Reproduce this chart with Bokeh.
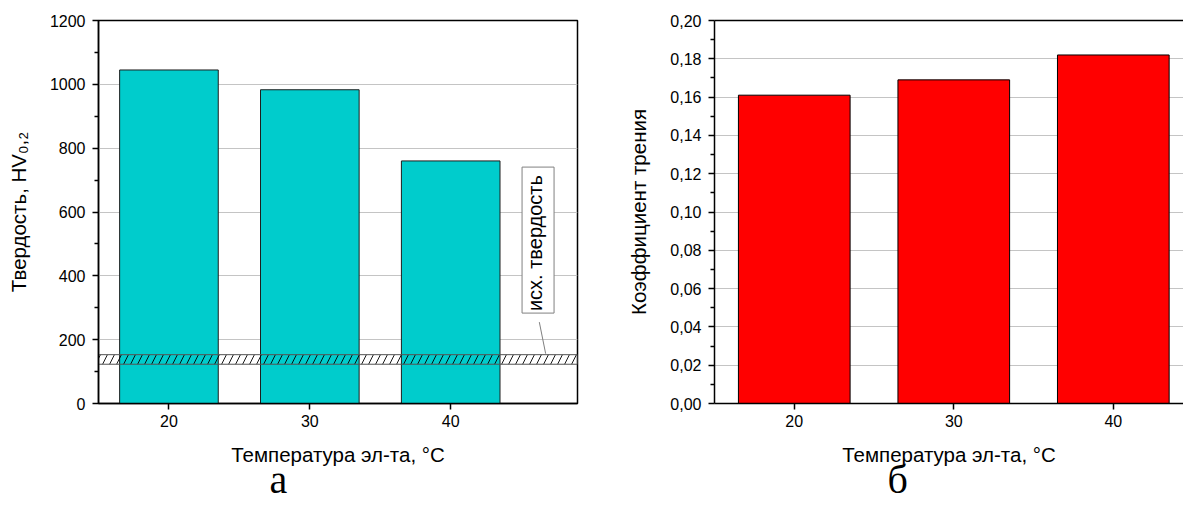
import math
from bokeh.plotting import figure
from bokeh.models import FixedTicker, Label, LinearAxis, CustomJSTickFormatter, Range1d, Title
from bokeh.layouts import row
from bokeh.embed import file_html
from bokeh.resources import INLINE

# ---------------- data ----------------
temps = [20, 30, 40]                       # electrolyte temperature, °C
hardness = [1045, 983, 760]                # HV0,2
friction = [0.161, 0.169, 0.182]           # friction coefficient
base_hardness_low = 123                    # initial hardness band
base_hardness_high = 153
hard_ticks = [0, 200, 400, 600, 800, 1000, 1200]
hard_minor = [100, 300, 500, 700, 900, 1100]
fric_ticks = [0.0, 0.02, 0.04, 0.06, 0.08, 0.10, 0.12, 0.14, 0.16, 0.18, 0.20]
fric_minor = [0.01, 0.03, 0.05, 0.07, 0.09, 0.11, 0.13, 0.15, 0.17, 0.19]
x_left_range = (15, 49)
x_right_range = (15, 44.4)
bar_width = 7

FONT = "Liberation Sans"
SERIF = "Liberation Serif"


def style_axes(p, yticks, yminor):
    p.xgrid.visible = False
    p.ygrid.grid_line_color = "#c4c4c4"
    p.ygrid.grid_line_width = 1
    p.xaxis.ticker = FixedTicker(ticks=temps)
    p.yaxis.ticker = FixedTicker(ticks=yticks, minor_ticks=yminor)
    for ax in (p.xaxis[0], p.yaxis[0]):
        ax.axis_line_color = "black"
        ax.axis_line_width = 1.5
        ax.major_tick_line_color = "black"
        ax.major_tick_line_width = 1.5
        ax.major_tick_in = 0
        ax.major_tick_out = 6
        ax.minor_tick_line_color = "black"
        ax.minor_tick_line_width = 1.5
        ax.minor_tick_in = 0
        ax.minor_tick_out = 4
        ax.major_label_text_font = FONT
        ax.major_label_text_font_size = "16px"
        ax.major_label_text_color = "black"
        ax.major_label_standoff = 7
        ax.axis_label_text_font = FONT
        ax.axis_label_text_font_size = "20.5px"
        ax.axis_label_text_font_style = "normal"
        ax.axis_label_text_color = "black"
    p.xaxis.minor_tick_line_color = None
    p.xaxis.axis_label = "Температура эл-та, °C"
    p.xaxis.axis_label_standoff = 13
    p.xaxis.major_label_standoff = 5
    p.background_fill_color = "white"
    p.border_fill_color = "white"


def panel_letter(p, letter, offset):
    p.add_layout(Title(text=letter, align="left", offset=offset, standoff=-27,
                       text_font=SERIF, text_font_size="40px",
                       text_font_style="normal", text_color="black"), "below")


# ---------------- left chart (a) ----------------
p1 = figure(width=608, height=522,
            x_range=Range1d(*x_left_range), y_range=Range1d(0, hard_ticks[-1]),
            output_backend="svg", toolbar_location=None,
            min_border_left=98, min_border_right=31,
            min_border_top=20, min_border_bottom=119)
style_axes(p1, hard_ticks, hard_minor)
p1.outline_line_color = "black"
p1.outline_line_width = 1.5
p1.outline_line_alpha = 1
p1.yaxis.axis_label = "Твердость, HV₀,₂"
p1.yaxis.axis_label_standoff = 17

p1.vbar(x=temps, top=hardness, bottom=0, width=bar_width,
        fill_color="#00CCCC", line_color="#1e1e1e", line_width=1)

p1.quad(left=[x_left_range[0]], right=[x_left_range[1]],
        bottom=[base_hardness_low], top=[base_hardness_high],
        fill_alpha=0, line_color="#555555", line_width=1,
        hatch_pattern="/", hatch_color="black", hatch_weight=0.9, hatch_scale=14)

p1.segment(x0=[46.29], y0=[255], x1=[46.74], y1=[156],
           line_color="#808080", line_width=1)

p1.add_layout(Label(x=46.2, y=512, text="исх. твердость", angle=math.pi / 2,
                    text_align="center", text_baseline="middle",
                    text_font=FONT, text_font_size="20px", text_color="black",
                    border_line_color="#808080", border_line_width=1,
                    background_fill_color="white", padding=(2, 8, 2, 8)))

panel_letter(p1, "а", 171)

# ---------------- right chart (б) ----------------
p2 = figure(width=575, height=522,
            x_range=Range1d(*x_right_range), y_range=Range1d(0, fric_ticks[-1]),
            output_backend="svg", toolbar_location=None,
            min_border_left=106, min_border_right=0,
            min_border_top=20, min_border_bottom=119)
style_axes(p2, fric_ticks, fric_minor)
p2.outline_line_color = None
p2.yaxis.formatter = CustomJSTickFormatter(code="return tick.toFixed(2).replace('.', ',');")
p2.yaxis.axis_label = "Коэффициент трения"
p2.yaxis.axis_label_standoff = 17

top_axis = LinearAxis(ticker=FixedTicker(ticks=[]), axis_line_color="black",
                      axis_line_width=1.5, major_tick_line_color=None,
                      minor_tick_line_color=None, major_label_text_color=None)
p2.add_layout(top_axis, "above")

p2.vbar(x=temps, top=friction, bottom=0, width=bar_width,
        fill_color="#FF0000", line_color="black", line_width=1)

panel_letter(p2, "б", 173)

layout = row(p1, p2)
open("out.html", "w").write(file_html(layout, INLINE))
